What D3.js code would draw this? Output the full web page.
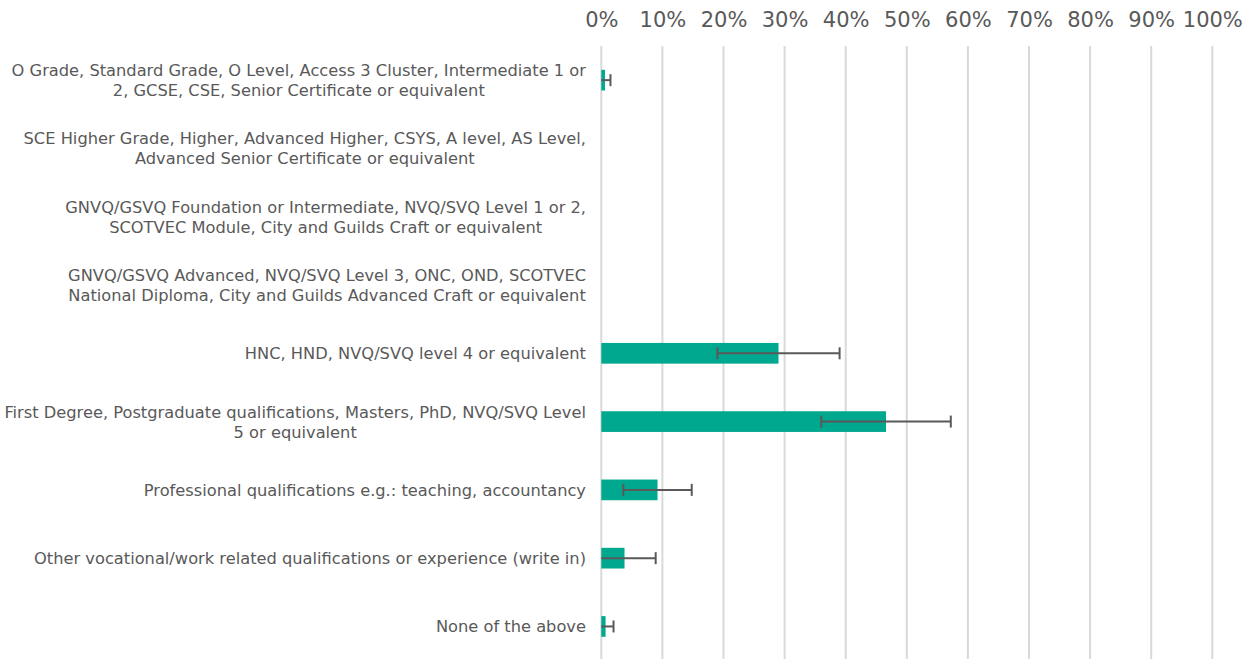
<!DOCTYPE html>
<html>
<head>
<meta charset="utf-8">
<script src="https://cdn.jsdelivr.net/npm/d3@7"></script>
<style>
  html, body { margin: 0; padding: 0; background: #ffffff; }
  svg { display: block; }
</style>
</head>
<body>
<svg id="chart" width="1256" height="659"></svg>
<script>
// Highest qualification held — share of respondents with 95% error bars
const categories = [
  ["O Grade, Standard Grade, O Level, Access 3 Cluster, Intermediate 1 or", "2, GCSE, CSE, Senior Certificate or equivalent"],
  ["SCE Higher Grade, Higher, Advanced Higher, CSYS, A level, AS Level,", "Advanced Senior Certificate or equivalent"],
  ["GNVQ/GSVQ Foundation or Intermediate, NVQ/SVQ Level 1 or 2,", "SCOTVEC Module, City and Guilds Craft or equivalent"],
  ["GNVQ/GSVQ Advanced, NVQ/SVQ Level 3, ONC, OND, SCOTVEC", "National Diploma, City and Guilds Advanced Craft or equivalent"],
  ["HNC, HND, NVQ/SVQ level 4 or equivalent"],
  ["First Degree, Postgraduate qualifications, Masters, PhD, NVQ/SVQ Level", "5 or equivalent"],
  ["Professional qualifications e.g.: teaching, accountancy"],
  ["Other vocational/work related qualifications or experience (write in)"],
  ["None of the above"]
];
const values  = [0.006, 0, 0, 0, 0.290, 0.466, 0.092, 0.038, 0.007];
const margins = [0.009, 0, 0, 0, 0.100, 0.106, 0.056, 0.051, 0.013];
const tickValues = [0, 0.1, 0.2, 0.3, 0.4, 0.5, 0.6, 0.7, 0.8, 0.9, 1.0];

const W = 1256, H = 659;
const plot = { left: 601.3, right: 1212.3, top: 46, bottom: 660.6 };
const textColor = "#595959";
const barColor = "#00A88F";
const gridColor = "#d9d9d9";
const labelFont = "'DejaVu Sans', Verdana, sans-serif";

const svg = d3.select("#chart");

const x = d3.scaleLinear().domain([0, 1]).range([plot.left, plot.right]);
const y = d3.scaleBand()
  .domain(d3.range(categories.length))
  .range([plot.top, plot.bottom])
  .paddingInner(0.697)
  .paddingOuter(0.697 / 2);

// vertical gridlines
svg.append("g")
  .selectAll("line")
  .data(tickValues)
  .join("line")
  .attr("x1", d => x(d)).attr("x2", d => x(d))
  .attr("y1", plot.top).attr("y2", H)
  .attr("stroke", gridColor)
  .attr("stroke-width", 2);

// top axis tick labels
const axis = svg.append("g")
  .attr("transform", `translate(0, 27)`)
  .call(d3.axisTop(x).tickValues(tickValues).tickFormat(d3.format(".0%")).tickSize(0).tickPadding(0));
axis.select(".domain").remove();
axis.selectAll("text")
  .attr("font-family", labelFont)
  .attr("font-size", 21)
  .attr("fill", textColor)
  .attr("dy", 0);

// bars
svg.append("g")
  .selectAll("rect")
  .data(values)
  .join("rect")
  .attr("x", x(0))
  .attr("y", (d, i) => y(i))
  .attr("width", d => x(d) - x(0))
  .attr("height", y.bandwidth())
  .attr("fill", barColor);

// error bars
const eb = svg.append("g")
  .attr("stroke", "#595959")
  .attr("stroke-width", 2)
  .selectAll("g")
  .data(values.map((v, i) => ({ v, m: margins[i], i })).filter(d => d.m > 0))
  .join("g");
const cy = d => y(d.i) + y.bandwidth() / 2;
const lo = d => Math.max(0, d.v - d.m);
const hi = d => d.v + d.m;
eb.append("line")
  .attr("x1", d => x(lo(d))).attr("x2", d => x(hi(d)))
  .attr("y1", cy).attr("y2", cy);
eb.filter(d => d.v - d.m > 0).append("line")
  .attr("x1", d => x(lo(d))).attr("x2", d => x(lo(d)))
  .attr("y1", d => cy(d) - 6).attr("y2", d => cy(d) + 6);
eb.append("line")
  .attr("x1", d => x(hi(d))).attr("x2", d => x(hi(d)))
  .attr("y1", d => cy(d) - 6).attr("y2", d => cy(d) + 6);

// category labels: lines centred on each other, block right-aligned
const labelRight = 586;
const lineH = 20;
const lab = svg.append("g")
  .attr("font-family", labelFont)
  .attr("font-size", 16.25)
  .attr("fill", textColor);
categories.forEach((lines, i) => {
  const g = lab.append("g");
  const c = y(i) + y.bandwidth() / 2;
  const texts = lines.map((t, k) => g.append("text")
    .attr("y", c + 6 + (k - (lines.length - 1) / 2) * lineH)
    .attr("text-anchor", "middle")
    .text(t));
  const maxW = d3.max(texts, t => t.node().getComputedTextLength());
  texts.forEach(t => t.attr("x", labelRight - maxW / 2));
});
</script>
</body>
</html>
